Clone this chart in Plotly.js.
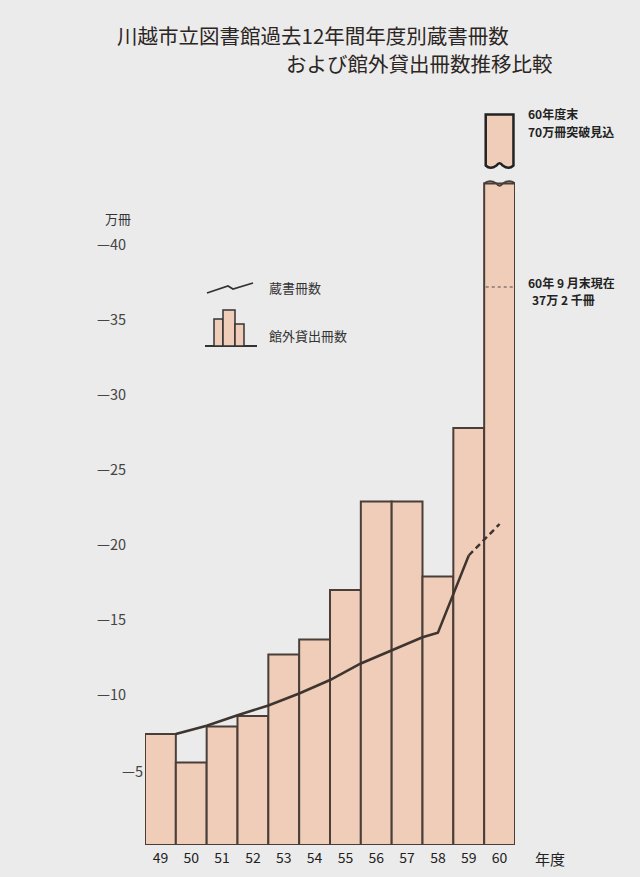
<!DOCTYPE html>
<html>
<head>
<meta charset="utf-8">
<script src="https://cdn.plot.ly/plotly-3.0.1.min.js"></script>
<style>html,body{margin:0;padding:0;background:#ebebeb;}#chart{width:640px;height:877px;}</style>
</head>
<body>
<div id="chart"></div>
<script>
// ---- data (units: 万冊) ----
const years = [49, 50, 51, 52, 53, 54, 55, 56, 57, 58, 59, 60];
const yearLabels = ['49', '50', '51', '52', '53', '54', '55', '56', '57', '58', '59', '60'];
const loans = [7.4, 5.5, 7.9, 8.6, 12.7, 13.7, 17.0, 22.9, 22.9, 17.9, 27.8, 44.1];   // 館外貸出冊数
const stockX = [49.5, 50.5, 51.5, 52.5, 53.5, 54.5, 55.5, 56.5, 57.5, 58, 59];
const stockY = [7.4, 7.95, 8.65, 9.3, 10.1, 11.0, 12.1, 13.0, 13.85, 14.15, 19.3]; // 蔵書冊数
const stockEstX = [59, 60];
const stockEstY = [19.3, 21.4];
const sept60 = 37.2;               // 60年9月末現在 37万2千冊
const breakBox = [45.3, 48.7];     // 70万冊 (broken bar top)
const yTicks = [10, 15, 20, 25, 30, 35, 40];
const yTickText = ['—10', '—15', '—20', '—25', '—30', '—35', '—40'];

const FONT = '"Noto Sans CJK JP", "Noto Sans", sans-serif';
const INK = '#2b2623';
const BAR_FILL = '#efcdb8';
const BAR_LINE = '#4a3e39';

const traces = [
  {
    type: 'bar', x: years, y: loans, width: 1,
    marker: {color: BAR_FILL, line: {color: BAR_LINE, width: 2}},
    hoverinfo: 'x+y', showlegend: false
  },
  {
    type: 'scatter', mode: 'lines', x: stockX, y: stockY,
    line: {color: '#3e3430', width: 2.5}, showlegend: false
  },
  {
    type: 'scatter', mode: 'lines', x: stockEstX, y: stockEstY,
    line: {color: '#3e3430', width: 2.5, dash: '6px,4px'}, showlegend: false
  }
];

const last = years[years.length - 1];
const bx0 = last - 0.45, bx1 = last + 0.45;
const bmid = (bx0 + bx1) / 2;
const wave = 0.3;
const boxPath = `M ${bx0},${breakBox[0]} L ${bx0},${breakBox[1]} L ${bx1},${breakBox[1]} L ${bx1},${breakBox[0]}` +
  ` Q ${bx1 - 0.15},${breakBox[0] - wave} ${bmid + 0.1},${breakBox[0]}` +
  ` Q ${bmid},${breakBox[0] + wave} ${bmid - 0.1},${breakBox[0]}` +
  ` Q ${bx0 + 0.15},${breakBox[0] - wave} ${bx0},${breakBox[0]} Z`;

const topY = loans[loans.length - 1];
const topWave = `M ${last - 0.5},${topY} Q ${bx0 + 0.12},${topY + wave} ${bmid - 0.1},${topY}` +
  ` Q ${bmid},${topY - wave} ${bmid + 0.1},${topY} Q ${bx1 - 0.12},${topY + wave} ${last + 0.5},${topY}`;

// helpers for pixel -> paper
function px(x) { return (x - 145) / 370; }
function py(y) { return (845 - y) / 750; }
function pathPx(pts) {
  return pts.map((p, i) => (i ? 'L ' : 'M ') + px(p[0]) + ',' + py(p[1])).join(' ');
}

const shapes = [
  {type: 'path', xref: 'x', yref: 'y', path: boxPath, fillcolor: BAR_FILL, line: {color: '#222', width: 2.5}},
  {type: 'path', xref: 'x', yref: 'y', path: topWave, line: {color: BAR_LINE, width: 2}},
  {type: 'line', xref: 'x', yref: 'y', x0: last - 0.45, x1: last + 0.85, y0: sept60, y1: sept60,
   line: {color: '#5a4a44', width: 1.2, dash: 'dot'}},
  // legend icons
  {type: 'path', xref: 'paper', yref: 'paper',
   path: pathPx([[207, 293], [228, 286], [233, 289], [253, 283]]), line: {color: '#333', width: 1.8}},
  {type: 'line', xref: 'paper', yref: 'paper', x0: px(205), x1: px(257), y0: py(346), y1: py(346), line: {color: '#333', width: 1.8}},
  {type: 'rect', xref: 'paper', yref: 'paper', x0: px(214), x1: px(223), y0: py(346), y1: py(319), fillcolor: BAR_FILL, line: {color: '#333', width: 1.5}},
  {type: 'rect', xref: 'paper', yref: 'paper', x0: px(223), x1: px(235), y0: py(346), y1: py(310), fillcolor: BAR_FILL, line: {color: '#333', width: 1.5}},
  {type: 'rect', xref: 'paper', yref: 'paper', x0: px(235), x1: px(244), y0: py(346), y1: py(324), fillcolor: BAR_FILL, line: {color: '#333', width: 1.5}}
];

const ann = (text, x, y, opts) => Object.assign({
  text, x: px(x), y: py(y), xref: 'paper', yref: 'paper', showarrow: false, borderpad: 0,
  font: {family: FONT, size: 13, color: INK}, xanchor: 'left', yanchor: 'middle'
}, opts || {});
const NOTE = {family: FONT, size: 12, color: '#222', weight: 'bold'};

const annotations = [
  ann('川越市立図書館過去12年間年度別蔵書冊数', 116, 35, {font: {family: FONT, size: 20.5, color: INK}}),
  ann('および館外貸出冊数推移比較', 554, 63, {xanchor: 'right', font: {family: FONT, size: 20.5, color: INK}}),
  ann('万冊', 104, 218, {font: {family: FONT, size: 13, color: '#333'}}),
  ann('—5', 144, 770, {xanchor: 'right', font: {family: FONT, size: 14.5, color: '#444'}}),
  ann('蔵書冊数', 268, 287, {font: {family: FONT, size: 13, color: '#333'}}),
  ann('館外貸出冊数', 268, 335, {font: {family: FONT, size: 13, color: '#333'}}),
  ann('60年度末', 527, 114, {font: NOTE}),
  ann('70万冊突破見込', 527, 131, {font: NOTE}),
  ann('60年 9 月末現在', 527, 282, {font: NOTE}),
  ann('37万 2 千冊', 563, 299, {xanchor: 'center', font: NOTE}),
  ann('年度', 550, 858, {xanchor: 'center', font: {family: FONT, size: 15, color: '#222'}})
];

const layout = {
  width: 640, height: 877,
  margin: {l: 145, r: 125, t: 95, b: 32},
  paper_bgcolor: '#ebebeb', plot_bgcolor: 'rgba(0,0,0,0)',
  bargap: 0,
  showlegend: false,
  xaxis: {
    range: [48.5, 60.5], tickvals: years, ticktext: yearLabels,
    showgrid: false, zeroline: false, showline: false, ticks: '',
    ticklabelstandoff: 3,
    tickfont: {family: FONT, size: 14, color: '#222'}, fixedrange: true
  },
  yaxis: {
    range: [0, 50], tickvals: yTicks, ticktext: yTickText,
    showgrid: false, zeroline: false, showline: false, ticks: '',
    ticklabelstandoff: 18,
    tickfont: {family: FONT, size: 14.5, color: '#444'}, fixedrange: true
  },
  shapes, annotations
};

Plotly.newPlot('chart', traces, layout, {displayModeBar: false, staticPlot: true});
</script>
</body>
</html>
